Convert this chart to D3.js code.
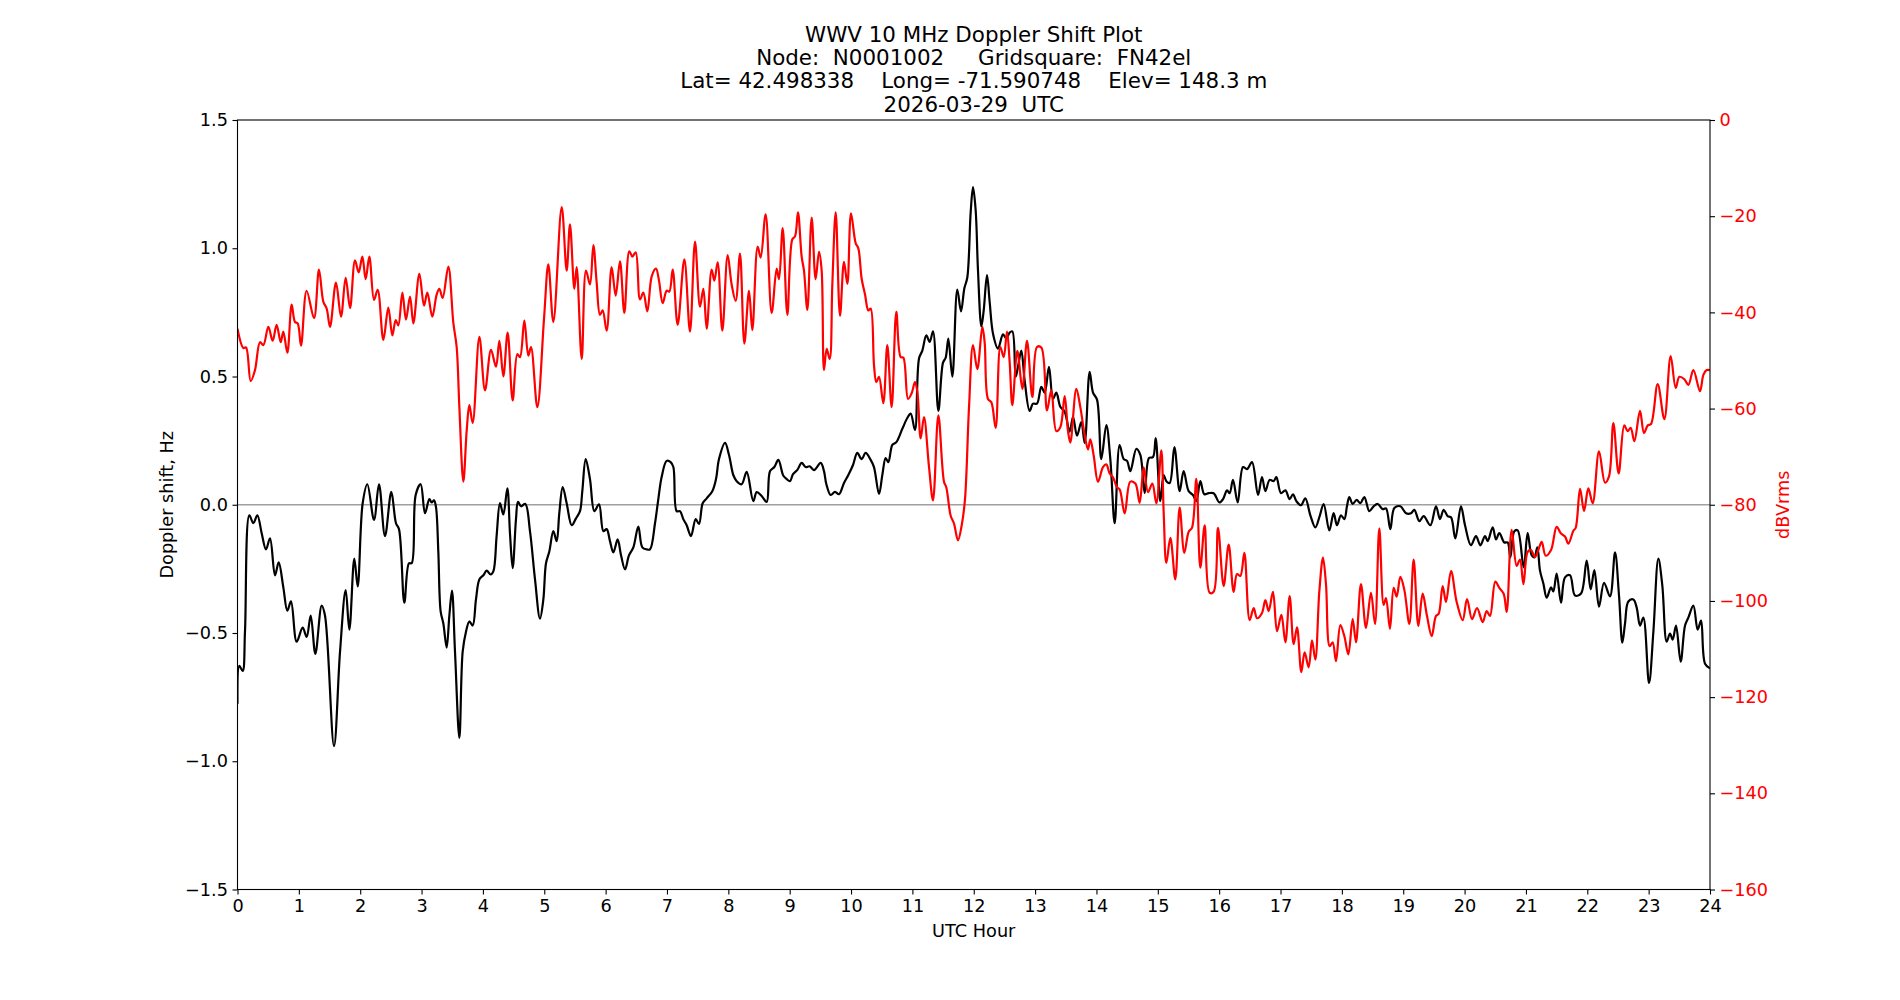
<!DOCTYPE html>
<html>
<head>
<meta charset="utf-8">
<script src="https://cdn.jsdelivr.net/npm/d3@7"></script>
<style>
  body { margin: 0; background: #fff; }
  text { font-family: "DejaVu Sans", sans-serif; }
</style>
</head>
<body>
<div id="chart"></div>
<script>
// title lines
const titleLines = [
    "WWV 10 MHz Doppler Shift Plot",
    "Node:  N0001002     Gridsquare:  FN42el",
    "Lat= 42.498338    Long= -71.590748    Elev= 148.3 m",
    "2026-03-29  UTC"
];

// tick values
const hourTicks = d3.range(0, 25, 1);
const dopplerTicks = [-1.5, -1.0, -0.5, 0.0, 0.5, 1.0, 1.5];
const dbTicks = [-160, -140, -120, -100, -80, -60, -40, -20, 0];

// doppler shift (Hz)
const dopplerHours = [
    0.000, 0.030, 0.084, 0.122, 0.193, 0.258, 0.323, 0.394, 0.464, 0.530, 0.611, 0.671, 0.747, 0.812, 0.872, 0.964,
    1.062, 1.127, 1.193, 1.269, 1.372, 1.426, 1.573, 1.671, 1.763, 1.823, 1.904, 1.959, 2.040, 2.116, 2.225, 2.306,
    2.404, 2.507, 2.583, 2.632, 2.719, 2.795, 2.839, 2.904, 2.985, 3.056, 3.127, 3.165, 3.203, 3.235, 3.273, 3.311,
    3.355, 3.409, 3.453, 3.496, 3.545, 3.616, 3.670, 3.724, 3.779, 3.833, 3.887, 3.942, 4.007, 4.061, 4.126, 4.170,
    4.224, 4.278, 4.333, 4.398, 4.441, 4.485, 4.539, 4.572, 4.621, 4.691, 4.767, 4.849, 4.930, 4.985, 5.028, 5.082,
    5.148, 5.202, 5.245, 5.300, 5.365, 5.447, 5.517, 5.582, 5.620, 5.675, 5.745, 5.816, 5.892, 5.963, 6.017, 6.071,
    6.126, 6.196, 6.251, 6.316, 6.381, 6.452, 6.533, 6.598, 6.669, 6.723, 6.805, 6.859, 6.913, 6.995, 7.060, 7.104,
    7.158, 7.212, 7.266, 7.321, 7.391, 7.468, 7.522, 7.582, 7.647, 7.739, 7.799, 7.848, 7.946, 8.011, 8.081, 8.136,
    8.217, 8.299, 8.407, 8.462, 8.543, 8.625, 8.679, 8.750, 8.815, 8.897, 8.951, 9.005, 9.054, 9.125, 9.195, 9.260,
    9.326, 9.396, 9.505, 9.559, 9.597, 9.668, 9.739, 9.804, 9.885, 9.956, 10.032, 10.102, 10.173, 10.238, 10.320, 10.374,
    10.456, 10.510, 10.564, 10.608, 10.673, 10.738, 10.836, 10.917, 10.972, 11.042, 11.108, 11.162, 11.227, 11.282, 11.336, 11.423,
    11.499, 11.542, 11.586, 11.651, 11.732, 11.792, 11.847, 11.895, 11.950, 11.988, 12.031, 12.069, 12.124, 12.162, 12.216, 12.260,
    12.314, 12.395, 12.477, 12.531, 12.585, 12.629, 12.683, 12.721, 12.775, 12.830, 12.911, 12.966, 13.031, 13.101, 13.156, 13.226,
    13.292, 13.346, 13.411, 13.482, 13.563, 13.618, 13.683, 13.753, 13.808, 13.889, 13.944, 14.009, 14.079, 14.161, 14.226, 14.297,
    14.378, 14.444, 14.498, 14.552, 14.650, 14.715, 14.786, 14.856, 14.922, 14.965, 15.041, 15.095, 15.139, 15.193, 15.270, 15.356,
    15.421, 15.503, 15.573, 15.628, 15.693, 15.758, 15.829, 15.910, 16.003, 16.063, 16.128, 16.171, 16.225, 16.302, 16.389, 16.454,
    16.535, 16.633, 16.698, 16.753, 16.823, 16.888, 16.932, 17.008, 17.079, 17.149, 17.203, 17.258, 17.334, 17.404, 17.486, 17.567,
    17.638, 17.703, 17.795, 17.866, 17.920, 17.985, 18.040, 18.083, 18.121, 18.176, 18.241, 18.301, 18.366, 18.447, 18.518, 18.584,
    18.665, 18.719, 18.790, 18.855, 18.953, 19.045, 19.127, 19.181, 19.263, 19.333, 19.442, 19.534, 19.599, 19.659, 19.724, 19.779,
    19.849, 19.941, 20.007, 20.104, 20.186, 20.257, 20.333, 20.376, 20.458, 20.512, 20.566, 20.648, 20.702, 20.746, 20.811, 20.865,
    20.963, 21.028, 21.093, 21.137, 21.186, 21.229, 21.284, 21.338, 21.409, 21.447, 21.501, 21.572, 21.637, 21.718, 21.800, 21.898,
    21.990, 22.055, 22.115, 22.191, 22.273, 22.370, 22.452, 22.517, 22.571, 22.615, 22.669, 22.751, 22.805, 22.859, 22.914, 23.006,
    23.077, 23.158, 23.223, 23.294, 23.348, 23.392, 23.446, 23.522, 23.593, 23.647, 23.729, 23.799, 23.854, 23.919, 24.000
];
const dopplerHz = [
    -0.776, -0.628, -0.648, -0.495, -0.041, -0.072, -0.041, -0.111, -0.174, -0.131, -0.275, -0.225, -0.322, -0.413, -0.377, -0.534,
    -0.479, -0.515, -0.432, -0.581, -0.393, -0.432, -0.941, -0.573, -0.333, -0.487, -0.210, -0.318, 0.006, 0.080, -0.059, 0.080,
    -0.122, 0.050, -0.072, -0.095, -0.382, -0.228, -0.228, 0.038, 0.080, -0.033, 0.022, 0.009, 0.017, -0.009, -0.182, -0.416,
    -0.463, -0.557, -0.432, -0.335, -0.573, -0.909, -0.573, -0.495, -0.455, -0.471, -0.369, -0.291, -0.275, -0.257, -0.272, -0.260,
    -0.119, 0.006, -0.038, 0.064, -0.111, -0.247, -0.056, 0.011, -0.006, 0.003, -0.103, -0.291, -0.444, -0.369, -0.228, -0.182,
    -0.103, -0.142, -0.033, 0.069, 0.006, -0.080, -0.053, -0.025, 0.053, 0.178, 0.100, -0.025, 0.002, -0.103, -0.095, -0.142,
    -0.186, -0.135, -0.197, -0.252, -0.197, -0.166, -0.085, -0.166, -0.174, -0.174, -0.072, 0.022, 0.108, 0.171, 0.166, 0.147,
    -0.025, -0.025, -0.056, -0.080, -0.122, -0.056, -0.075, 0.006, 0.025, 0.053, 0.100, 0.178, 0.241, 0.194, 0.116, 0.092,
    0.080, 0.128, 0.014, 0.049, 0.034, 0.011, 0.131, 0.147, 0.175, 0.113, 0.100, 0.092, 0.119, 0.136, 0.163, 0.147,
    0.150, 0.135, 0.163, 0.131, 0.081, 0.038, 0.050, 0.041, 0.085, 0.116, 0.155, 0.202, 0.178, 0.202, 0.175, 0.147,
    0.042, 0.116, 0.182, 0.166, 0.233, 0.244, 0.296, 0.338, 0.355, 0.291, 0.570, 0.601, 0.660, 0.635, 0.676, 0.366,
    0.554, 0.573, 0.648, 0.499, 0.839, 0.754, 0.844, 0.886, 1.141, 1.238, 1.149, 0.914, 0.695, 0.757, 0.895, 0.789,
    0.667, 0.609, 0.664, 0.648, 0.671, 0.676, 0.499, 0.538, 0.601, 0.484, 0.366, 0.394, 0.394, 0.460, 0.437, 0.538,
    0.413, 0.437, 0.382, 0.363, 0.285, 0.343, 0.269, 0.322, 0.241, 0.518, 0.437, 0.410, 0.178, 0.311, 0.178, -0.072,
    0.233, 0.178, 0.171, 0.131, 0.218, 0.194, 0.045, 0.182, 0.186, 0.260, 0.014, 0.116, 0.092, 0.085, 0.225, 0.053,
    0.131, 0.053, 0.038, 0.014, 0.092, 0.041, 0.045, 0.045, 0.009, 0.022, 0.056, 0.045, 0.097, 0.009, 0.147, 0.139,
    0.166, 0.038, 0.108, 0.053, 0.097, 0.092, 0.108, 0.045, 0.056, 0.022, 0.041, 0.014, -0.002, 0.025, -0.041, -0.088,
    -0.044, 0.003, -0.100, -0.033, -0.080, -0.041, -0.056, -0.006, 0.030, 0.003, 0.019, 0.006, 0.030, -0.025, -0.006, 0.003,
    -0.017, -0.014, -0.095, -0.013, -0.006, -0.033, -0.033, -0.020, -0.064, -0.044, -0.080, -0.006, -0.056, -0.020, -0.044, -0.049,
    -0.131, -0.006, -0.080, -0.158, -0.122, -0.158, -0.122, -0.142, -0.088, -0.135, -0.111, -0.147, -0.147, -0.205, -0.103, -0.100,
    -0.244, -0.111, -0.197, -0.205, -0.166, -0.257, -0.307, -0.362, -0.322, -0.338, -0.268, -0.382, -0.283, -0.275, -0.354, -0.346,
    -0.218, -0.330, -0.255, -0.397, -0.304, -0.357, -0.186, -0.354, -0.538, -0.463, -0.377, -0.369, -0.401, -0.471, -0.440, -0.695,
    -0.495, -0.210, -0.315, -0.534, -0.502, -0.526, -0.471, -0.612, -0.471, -0.440, -0.393, -0.487, -0.452, -0.620, -0.638
];

// received signal level (dBVrms)
const signalHours = [
    0.000, 0.095, 0.139, 0.215, 0.285, 0.367, 0.421, 0.503, 0.573, 0.638, 0.704, 0.747, 0.812, 0.883, 0.937, 0.981,
    1.035, 1.127, 1.247, 1.328, 1.399, 1.453, 1.508, 1.605, 1.687, 1.763, 1.834, 1.915, 1.975, 2.035, 2.089, 2.149,
    2.225, 2.285, 2.377, 2.458, 2.524, 2.578, 2.621, 2.687, 2.746, 2.812, 2.866, 2.964, 3.040, 3.094, 3.175, 3.246,
    3.290, 3.344, 3.436, 3.518, 3.572, 3.616, 3.681, 3.735, 3.779, 3.833, 3.942, 4.034, 4.132, 4.213, 4.268, 4.333,
    4.403, 4.485, 4.561, 4.604, 4.675, 4.740, 4.784, 4.887, 4.996, 5.066, 5.148, 5.284, 5.365, 5.419, 5.490, 5.528,
    5.610, 5.680, 5.745, 5.800, 5.854, 5.908, 5.952, 6.017, 6.098, 6.164, 6.234, 6.305, 6.386, 6.435, 6.490, 6.560,
    6.615, 6.680, 6.751, 6.821, 6.870, 6.930, 6.995, 7.038, 7.093, 7.174, 7.283, 7.375, 7.457, 7.538, 7.593, 7.647,
    7.728, 7.772, 7.826, 7.902, 7.989, 8.054, 8.120, 8.190, 8.261, 8.337, 8.391, 8.478, 8.527, 8.608, 8.706, 8.788,
    8.826, 8.886, 8.962, 9.043, 9.087, 9.135, 9.195, 9.233, 9.288, 9.358, 9.423, 9.478, 9.521, 9.559, 9.603, 9.652,
    9.695, 9.750, 9.820, 9.885, 9.940, 9.999, 10.075, 10.119, 10.173, 10.228, 10.282, 10.320, 10.374, 10.412, 10.456, 10.526,
    10.591, 10.662, 10.738, 10.809, 10.852, 10.929, 10.988, 11.042, 11.080, 11.135, 11.189, 11.271, 11.336, 11.423, 11.515, 11.553,
    11.624, 11.678, 11.743, 11.803, 11.857, 11.923, 11.988, 12.058, 12.140, 12.178, 12.232, 12.287, 12.357, 12.433, 12.488, 12.542,
    12.585, 12.629, 12.710, 12.792, 12.868, 12.955, 13.031, 13.101, 13.194, 13.264, 13.346, 13.411, 13.482, 13.536, 13.574, 13.672,
    13.737, 13.808, 13.862, 13.900, 13.954, 14.025, 14.106, 14.161, 14.215, 14.270, 14.335, 14.378, 14.460, 14.552, 14.634, 14.704,
    14.770, 14.840, 14.911, 14.976, 15.057, 15.095, 15.139, 15.204, 15.285, 15.356, 15.432, 15.503, 15.557, 15.628, 15.693, 15.764,
    15.845, 15.910, 15.981, 16.073, 16.155, 16.236, 16.291, 16.345, 16.410, 16.497, 16.563, 16.617, 16.698, 16.753, 16.807, 16.877,
    16.943, 17.014, 17.079, 17.149, 17.214, 17.269, 17.339, 17.393, 17.459, 17.513, 17.567, 17.632, 17.692, 17.741, 17.801, 17.850,
    17.904, 17.975, 18.040, 18.105, 18.176, 18.230, 18.311, 18.393, 18.474, 18.540, 18.610, 18.681, 18.719, 18.784, 18.844, 18.893,
    18.953, 19.018, 19.100, 19.170, 19.246, 19.317, 19.387, 19.464, 19.534, 19.577, 19.643, 19.697, 19.779, 19.871, 19.969, 20.040,
    20.121, 20.203, 20.295, 20.360, 20.414, 20.501, 20.566, 20.637, 20.686, 20.767, 20.849, 20.903, 20.959, 21.028, 21.082, 21.148,
    21.202, 21.257, 21.322, 21.409, 21.501, 21.572, 21.637, 21.691, 21.773, 21.811, 21.882, 21.947, 22.017, 22.088, 22.191, 22.289,
    22.354, 22.425, 22.511, 22.603, 22.658, 22.707, 22.767, 22.859, 22.924, 22.985, 23.039, 23.147, 23.256, 23.359, 23.441, 23.501,
    23.582, 23.647, 23.729, 23.837, 23.892, 23.946, 24.000
];
const signalDb = [
    -43.4, -47.4, -47.3, -54.3, -52.0, -46.2, -46.8, -43.0, -45.9, -42.6, -46.2, -44.0, -48.4, -38.4, -42.0, -42.3,
    -46.9, -35.5, -41.2, -31.1, -37.8, -39.2, -43.0, -33.8, -40.9, -32.8, -39.1, -29.2, -31.7, -28.4, -33.1, -28.4,
    -37.4, -35.3, -45.7, -39.0, -44.8, -41.6, -42.7, -35.9, -41.5, -36.7, -42.3, -32.0, -38.6, -35.9, -40.9, -36.3,
    -35.1, -37.0, -30.5, -42.2, -47.2, -59.7, -75.2, -64.7, -59.3, -63.0, -45.1, -56.2, -47.8, -51.3, -45.9, -53.3,
    -44.2, -58.3, -48.7, -49.3, -41.7, -49.0, -47.2, -59.7, -41.3, -30.0, -42.0, -18.1, -31.3, -21.7, -35.1, -30.6,
    -49.7, -31.3, -34.2, -26.0, -33.8, -40.5, -39.6, -43.8, -30.6, -36.5, -29.4, -40.1, -27.3, -28.4, -27.5, -37.3,
    -35.9, -39.8, -32.5, -30.9, -33.4, -38.1, -35.5, -35.7, -31.1, -42.6, -29.0, -44.0, -25.3, -38.8, -35.1, -43.4,
    -31.1, -33.4, -29.6, -43.8, -28.1, -34.2, -37.6, -27.8, -46.5, -35.5, -43.7, -26.3, -28.6, -19.6, -40.1, -30.9,
    -33.1, -22.5, -40.5, -24.8, -24.2, -19.2, -28.4, -31.3, -39.5, -20.3, -33.1, -27.4, -31.3, -52.0, -47.6, -49.7,
    -34.2, -19.2, -40.7, -29.5, -34.1, -19.4, -25.6, -26.7, -33.0, -36.3, -39.6, -39.2, -50.9, -54.5, -53.4, -58.9,
    -46.8, -59.7, -39.9, -49.3, -49.4, -58.0, -56.8, -54.5, -56.4, -66.2, -61.8, -72.2, -79.1, -61.4, -75.2, -76.4,
    -82.3, -83.9, -87.4, -84.3, -78.9, -59.7, -46.8, -51.8, -43.0, -46.3, -58.0, -58.7, -64.0, -47.2, -49.3, -44.0,
    -50.3, -59.3, -48.0, -55.9, -45.9, -57.6, -47.2, -47.3, -60.4, -56.2, -64.7, -63.9, -57.4, -64.7, -67.1, -55.9,
    -59.7, -65.5, -68.5, -66.4, -69.7, -75.2, -72.2, -71.6, -73.5, -74.3, -76.4, -76.8, -81.8, -75.2, -75.6, -79.6,
    -72.2, -77.4, -75.6, -79.7, -68.7, -81.4, -92.1, -86.9, -95.5, -80.6, -90.0, -85.6, -84.8, -74.6, -93.1, -84.3,
    -98.3, -98.1, -84.8, -96.9, -88.3, -98.1, -94.4, -94.8, -90.0, -104.0, -101.5, -103.6, -102.5, -99.8, -102.1, -98.1,
    -106.3, -102.9, -108.6, -99.0, -109.0, -105.5, -114.8, -110.7, -113.8, -108.2, -112.2, -98.1, -91.0, -96.5, -109.4, -108.6,
    -112.5, -105.0, -107.3, -111.1, -103.8, -108.6, -96.5, -105.6, -98.3, -104.8, -84.9, -100.8, -99.4, -105.8, -97.3, -99.1,
    -95.0, -97.7, -104.8, -91.4, -105.2, -98.5, -103.1, -107.3, -103.1, -102.7, -96.9, -100.2, -93.8, -100.2, -104.0, -99.6,
    -103.8, -101.5, -104.4, -102.1, -103.1, -96.0, -97.3, -98.5, -102.3, -85.2, -92.7, -91.4, -96.5, -89.8, -89.4, -90.9,
    -89.4, -87.7, -90.6, -89.4, -84.6, -86.0, -86.6, -88.1, -85.4, -84.8, -76.7, -81.3, -76.6, -79.7, -68.9, -75.4,
    -74.1, -63.0, -73.5, -63.5, -64.7, -64.0, -66.8, -60.5, -65.1, -63.5, -63.2, -54.9, -62.2, -49.1, -55.7, -53.4,
    -53.9, -55.1, -52.0, -56.4, -53.0, -52.0, -52.0
];

function main() {
    // set the dimensions and margins of the graph (matplotlib default axes box)
    const margin = {top: 120, right: 190, bottom: 110.5, left: 237.5},
        width = 1900 - margin.left - margin.right,
        height = 1000 - margin.top - margin.bottom;

    const fontTick = 17.7;

    const svg = d3.select("#chart")
        .append("svg")
        .attr("width", 1900)
        .attr("height", 1000);

    const g = svg.append("g")
        .attr("transform", `translate(${margin.left},${margin.top})`);

    // title
    const titleY = [42.3, 65, 88, 112];
    svg.append("g")
        .selectAll("text")
        .data(titleLines)
        .enter()
        .append("text")
        .attr("x", margin.left + width / 2)
        .attr("y", (d, i) => titleY[i])
        .attr("text-anchor", "middle")
        .attr("font-size", "21.4px")
        .style("white-space", "pre")
        .text(d => d);

    const x = d3.scaleLinear().domain([0, 24]).range([0, width]);
    const y = d3.scaleLinear().domain([-1.5, 1.5]).range([height, 0]);
    const y2 = d3.scaleLinear().domain([-160, 0]).range([height, 0]);

    const minus = s => s.replace("-", "\u2212");

    const x_axis = d3.axisBottom(x)
        .tickValues(hourTicks)
        .tickFormat(d => d)
        .tickSizeInner(5).tickSizeOuter(0).tickPadding(4.5);
    const y_axis = d3.axisLeft(y)
        .tickValues(dopplerTicks)
        .tickFormat(d => minus(d.toFixed(1)))
        .tickSizeInner(5).tickSizeOuter(0).tickPadding(4.5);
    const y2_axis = d3.axisRight(y2)
        .tickValues(dbTicks)
        .tickFormat(d => minus(String(d)))
        .tickSizeInner(5).tickSizeOuter(0).tickPadding(4.5);

    // zero line
    g.append("line")
        .attr("x1", 0)
        .attr("x2", width)
        .attr("y1", y(0))
        .attr("y2", y(0))
        .attr("stroke", "#a0a0a0")
        .attr("stroke-width", 1.5);

    g.append("defs").append("clipPath")
        .attr("id", "plotclip")
        .append("rect")
        .attr("width", width)
        .attr("height", height);

    const dopplerData = dopplerHours.map((h, i) => ({h: h, v: dopplerHz[i]}));
    const signalData = signalHours.map((h, i) => ({h: h, v: signalDb[i]}));

    const dopplerLine = d3.line()
        .x(d => x(d.h))
        .y(d => y(d.v))
        .curve(d3.curveCatmullRom.alpha(0.5));
    const signalLine = d3.line()
        .x(d => x(d.h))
        .y(d => y2(d.v))
        .curve(d3.curveCatmullRom.alpha(0.5));

    g.append("path")
        .datum(dopplerData)
        .attr("clip-path", "url(#plotclip)")
        .attr("fill", "none")
        .attr("stroke", "black")
        .attr("stroke-width", 2.2)
        .attr("stroke-linejoin", "round")
        .attr("d", dopplerLine);

    g.append("path")
        .datum(signalData)
        .attr("clip-path", "url(#plotclip)")
        .attr("fill", "none")
        .attr("stroke", "red")
        .attr("stroke-width", 2.2)
        .attr("stroke-linejoin", "round")
        .attr("d", signalLine);

    // frame
    g.append("rect")
        .attr("width", width)
        .attr("height", height)
        .attr("fill", "none")
        .attr("stroke", "black")
        .attr("stroke-width", 1.1);

    const gx = g.append("g")
        .attr("transform", `translate(0,${height})`)
        .call(x_axis);
    const gy = g.append("g")
        .call(y_axis);
    const gy2 = g.append("g")
        .attr("transform", `translate(${width},0)`)
        .call(y2_axis);

    [gx, gy, gy2].forEach(a => {
        a.select(".domain").remove();
        a.selectAll(".tick line").attr("stroke", "black").attr("stroke-width", 1.1);
        a.selectAll(".tick text")
            .attr("font-family", "DejaVu Sans, sans-serif")
            .attr("font-size", fontTick + "px")
            .attr("fill", "black");
    });
    gy2.selectAll(".tick text").attr("fill", "red");

    // axis labels
    svg.append("text")
        .attr("x", margin.left + width / 2)
        .attr("y", 937)
        .attr("text-anchor", "middle")
        .attr("font-size", fontTick + "px")
        .text("UTC Hour");

    svg.append("text")
        .attr("transform", `translate(167,${margin.top + height / 2}) rotate(-90)`)
        .attr("dy", "0.35em")
        .attr("text-anchor", "middle")
        .attr("font-size", fontTick + "px")
        .text("Doppler shift, Hz");

    svg.append("text")
        .attr("transform", `translate(1782.5,${margin.top + height / 2}) rotate(-90)`)
        .attr("dy", "0.35em")
        .attr("text-anchor", "middle")
        .attr("font-size", fontTick + "px")
        .attr("fill", "red")
        .text("dBVrms");
}

main()
</script>
</body>
</html>
